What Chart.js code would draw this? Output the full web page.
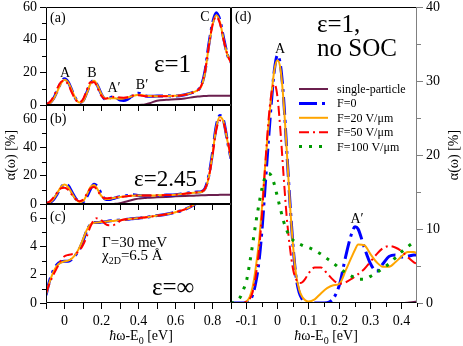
<!DOCTYPE html>
<html>
<head>
<meta charset="utf-8">
<script src="https://cdn.jsdelivr.net/npm/chart.js@4.4.1/dist/chart.umd.min.js"></script>
<style>
  html, body { margin: 0; padding: 0; background: #fff; }
  #wrap { position: relative; width: 463px; height: 346px; overflow: hidden; }
  #wrap canvas { position: absolute; left: -50px; top: -50px; }
</style>
</head>
<body>
<div id="wrap">
  <canvas id="pa" width="563" height="446"></canvas>
  <canvas id="pb" width="563" height="446"></canvas>
  <canvas id="pc" width="563" height="446"></canvas>
  <canvas id="pd" width="563" height="446"></canvas>
</div>
<script>
// photon energy hw-E0 [eV], left column (a)-(c)
const xLeft = [-0.1,-0.08,-0.06,-0.04,-0.02,0,0.02,0.04,0.06,0.08,
               0.1,0.12,0.14,0.16,0.18,0.2,0.22,0.24,0.26,0.28,
               0.3,0.32,0.34,0.36,0.38,0.4,0.42,0.44,0.46,
               0.5,0.55,0.6,0.65,0.7,
               0.72,0.74,0.76,0.78,0.8,0.82,0.84,0.86,0.88,0.9];

// (a) eps = 1
const spA  = [0,0,0,0,0,0,0,0,0,0, 0,0,0,0,0,0,0,0,0,0, 0,0,0,0,0,0,0.1,0.5,1.1,
              2.6,3.2,3.5,4,4.9, 5.2,5.4,5.5,5.6,5.6,5.6,5.7,5.7,5.7,5.7];
const f0A  = [0.3,1.2,3.8,8.5,13.5,16,14,9,4,1.5, 2.5,7.5,13,15,11.5,6.5,3.5,4,5,4.5,
              3,2.8,3.5,5,6.5,7.2,6.5,5.5,5.3, 5.5,5.6,5.5,6.3,8,
              9,12,21,37,50,56.5,52,41,31,26];
const f20A = [0.3,1,3.5,8,13,15.5,13.8,9,4,1.5, 2.3,7,12.8,14.8,11.5,6.5,4,4,4.2,4,
              3.8,4,4.5,5.2,5.8,6.2,6,5.7,5.5, 5.4,5.5,5.6,6.3,8,
              9,11.5,20,36,49,55,51,40,31,26];
const f50A = [0.5,1.8,5,10,14,15,12.5,7.5,3.2,1.5, 3.5,9,14,14,10,5.5,3.8,4.5,5,4.8,
              4.6,4.5,4.8,5.5,6,6,5.6,5.4,5.3, 5.3,5.4,5.5,6.2,7.8,
              9,12,21,36,49,54,50,40,31,26];

// (b) eps = 2.45
const spB  = [0,0,0,0,0,0,0,0,0,0, 0,0,0,0,0,0,0,0,0,0.2, 0.5,1.2,2,2.7,3.3,3.8,4.1,4.3,4.5,
              4.7,5,5.4,5.7,5.9, 6,6.1,6.2,6.3,6.4,6.4,6.5,6.5,6.6,6.6];
const f0B  = [0.3,1,3,7,11.5,14,13,8.5,4,1.5, 1.5,5,10.5,14,12,7,3.5,3.2,3.8,4.5,
              5.2,5.6,6,6.5,6.4,6,5.8,5.8,5.9, 6,6.3,6.5,7.5,8.3,
              8.5,8.8,11,20,36,55,62.5,59,45,32];
const f20B = [0.3,1.2,3.5,7.5,12,13.8,12,7.5,3.5,1.5, 2,6.5,12,13.5,10,5.5,3.5,3.5,4,4.5,
              5,5.3,5.6,5.8,6,6,6,6,6, 6.1,6.3,6.6,7.3,8,
              8.2,8.5,10.5,19,35,54,61.5,58,45,32];
const f50B = [0.5,1.8,4.5,8,11,11.5,10,6.5,3.5,2, 3,7,11,12,9,5.5,4,4.2,4.5,4.8,
              5,5.2,5.5,5.8,6,6,6,6,6, 6.1,6.3,6.6,7.3,8,
              8.3,8.8,11,19,34,52,59,57,46,33];

// (c) eps = infinity
const f0C  = [0.55,1.6,2.3,2.72,2.9,2.95,2.95,3.1,3.4,3.8, 4.4,5.1,5.55,5.7,5.7,5.72,5.75,5.8,5.82,5.85,
              5.87,5.9,5.92,5.95,5.98,6,6.03,6.06,6.1, 6.18,6.28,6.42,6.62,6.95,
              7.15,7.5,8.2,9.5,12,16,20,24,27,29];
const f20C = [0.6,1.5,2.2,2.65,2.85,2.95,3,3.15,3.45,3.9, 4.5,5.15,5.55,5.68,5.7,5.72,5.75,5.78,5.8,5.83,
              5.86,5.89,5.92,5.95,5.98,6,6.03,6.06,6.1, 6.18,6.28,6.42,6.62,6.95,
              7.15,7.5,8.2,9.5,12,16,20,24,27,29];
const f50C = [0.7,1.4,2,2.5,3,3.3,3.4,3.45,3.5,3.7, 4.1,4.7,5.4,5.9,6,5.85,5.6,5.5,5.5,5.6,
              5.8,5.9,5.92,5.95,5.98,6,6.03,6.06,6.1, 6.18,6.28,6.42,6.62,6.95,
              7.15,7.5,8.2,9.5,12,16,20,24,27,29];

// (d) eps = 1, no SOC, field dependence
const xD = [-0.15,-0.14,-0.13,-0.12,-0.11,-0.1,-0.09,-0.08,-0.07,-0.06,
            -0.05,-0.04,-0.03,-0.02,-0.01,0,0.01,0.02,0.03,0.04,
            0.05,0.06,0.07,0.08,0.09,0.1,
            0.12,0.14,0.16,0.18,0.2,0.22,0.24,0.25,0.26,
            0.28,0.3,0.32,0.34,0.36,0.38,0.4,0.42,0.44,0.45];
const spD   = [0,0,0,0,0,0,0,0,0,0, 0,0,0,0,0,0,0,0,0,0, 0,0,0,0,0,0,
               0,0,0,0,0,0,0,0,0, 0,0,0,0,0,0,0,0.05,0.15,0.2];
const f0D   = [0,0,0,0,0,0.1,0.3,1.1,2.8,5.5, 9.9,15.7,21.5,27,31.5,33.5,32,27.5,20.5,13.7,
               7.8,3.5,1.4,0.5,0.1,0, 0,0,0.05,0.6,2.5,6.3,9.5,10.3,10,
               7.5,5.3,4.3,5.3,6.3,6.5,6.2,6.3,6.5,6.5];
const f20D  = [0,0,0,0,0,0.2,0.8,2.2,4.8,8.2, 13,18.5,23.5,28,31.5,32.8,31.5,27,20.5,13.5,
               7.8,3.8,1.8,0.8,0.35,0.2, 0.5,1.3,2,2.4,2.6,4.4,6.3,7.2,7.9,
               7.8,6.6,5.5,4.9,4.9,5.5,6.3,6.9,6.9,6.7];
const f50D  = [0,0,0,0,0,0.2,0.5,1.5,3.7,7, 12,18.4,24.2,28.2,29.6,27.8,23,17,11.5,7.5,
               4.6,3.2,2.7,2.8,3.3,4, 4.8,4.8,4,3.1,2.6,2.8,3.3,3.6,3.9,
               4.6,5.6,6.6,7.4,7.7,7.5,7,6.2,5.5,5.3];
const f100D = [0,0.1,0.3,0.8,1.8,3,5.3,8,10.8,13.3, 15.5,17,17.5,17.2,16,14.3,12.6,11,9.8,9,
               8.5,8.2,8,7.8,7.6,7.5, 7.1,6.6,6,5.4,4.7,4.1,3.6,3.4,3.2,
               3.2,3.6,4.1,4.7,5.3,6.1,6.9,7.6,8.2,8.4];

const seriesNames = ['single-particle', 'F=0', 'F=20 V/\u03bcm', 'F=50 V/\u03bcm', 'F=100 V/\u03bcm'];

const SERIF = '"Liberation Serif", "DejaVu Serif", serif';
const OFF = 50, CW = 563, CH = 446, YW = 40, XH = 40;

const styles = [
  { borderColor: '#6b1f4e', borderWidth: 2, borderDash: [], order: 4 },
  { borderColor: '#0000ff', borderWidth: 3, borderDash: [18, 5, 3, 5], order: 3 },
  { borderColor: '#ffa500', borderWidth: 2, borderDash: [], order: 2 },
  { borderColor: '#ff0000', borderWidth: 2, borderDash: [10, 4, 2, 4], order: 1 },
  { borderColor: '#009900', borderWidth: 3, borderDash: [3, 7], order: 0 }
];

function isMult(v, step) {
  const r = v / step;
  return Math.abs(r - Math.round(r)) < 1e-6;
}

function ds(i, xs, ys) {
  return Object.assign({
    label: seriesNames[i],
    data: xs.map((x, k) => ({ x: x, y: ys[k] })),
    pointRadius: 0,
    fill: false,
    cubicInterpolationMode: 'monotone'
  }, styles[i]);
}

function drawRich(ctx, segs, x, y, size, align) {
  const fontFor = k => (k === 'i' ? 'italic ' : '') + (k === 's' ? Math.round(size * 0.68) : size) + 'px ' + SERIF;
  let w = 0;
  segs.forEach(([t, k]) => { ctx.font = fontFor(k); w += ctx.measureText(t).width; });
  let cx = align === 'center' ? x - w / 2 : (align === 'right' ? x - w : x);
  ctx.textAlign = 'left';
  ctx.textBaseline = 'alphabetic';
  segs.forEach(([t, k]) => {
    ctx.font = fontFor(k);
    ctx.fillText(t, cx, k === 's' ? y + size * 0.28 : y);
    cx += ctx.measureText(t).width;
  });
}

// frame, minor ticks, labels and legend
const deco = {
  id: 'deco',
  afterDatasetsDraw(chart, args, o) {
    const ctx = chart.ctx, a = chart.chartArea;
    ctx.save();
    ['x', 'y'].forEach(id => {
      const s = chart.scales[id], ax = o.axes[id];
      ctx.strokeStyle = ax.color || '#000';
      ctx.lineWidth = 1;
      s.ticks.forEach(t => {
        if (isMult(t.value, ax.major)) return;
        const p = Math.round(s.getPixelForValue(t.value)) + 0.5;
        ctx.beginPath();
        if (id === 'x') { ctx.moveTo(p, a.bottom); ctx.lineTo(p, a.bottom + 4); }
        else if (s.position === 'left') { ctx.moveTo(a.left - 4, p); ctx.lineTo(a.left, p); }
        else { ctx.moveTo(a.right, p); ctx.lineTo(a.right + 4, p); }
        ctx.stroke();
      });
    });
    const L = Math.round(a.left) + 0.5, R = Math.round(a.right) - 0.5;
    const T = Math.round(a.top) + 0.5, B = Math.round(a.bottom) - 0.5;
    const seg = (x1, y1, x2, y2, c) => {
      ctx.strokeStyle = c; ctx.beginPath(); ctx.moveTo(x1, y1); ctx.lineTo(x2, y2); ctx.stroke();
    };
    seg(L, T, R, T, '#000');
    seg(L, B, R, B, '#000');
    seg(L, T, L, B, '#000');
    seg(R, T, R, B, o.rightColor || '#000');

    ctx.translate(OFF, OFF);
    ctx.fillStyle = '#000';
    (o.texts || []).forEach(t => {
      const segs = typeof t.t === 'string' ? [[t.t, 'n']] : t.t;
      if (t.rot) {
        ctx.save();
        ctx.translate(t.x, t.y);
        ctx.rotate(-Math.PI / 2);
        drawRich(ctx, segs, 0, t.size * 0.33, t.size, 'center');
        ctx.restore();
      } else {
        drawRich(ctx, segs, t.x, t.y, t.size, t.align || 'left');
      }
    });
    if (o.legend) {
      const lg = o.legend;
      chart.data.datasets.forEach((d, i) => {
        const y = lg.y + i * lg.dy;
        ctx.strokeStyle = d.borderColor;
        ctx.lineWidth = d.borderWidth;
        ctx.setLineDash(d.borderDash || []);
        ctx.beginPath(); ctx.moveTo(lg.x, y); ctx.lineTo(lg.x + lg.w, y); ctx.stroke();
        ctx.setLineDash([]);
        drawRich(ctx, [[d.label, 'n']], lg.tx, y + 4, lg.size, 'left');
      });
    }
    ctx.restore();
  }
};

function axis(kind, pos, ax) {
  return {
    type: 'linear', position: pos, min: ax.min, max: ax.max,
    afterFit: s => { if (kind === 'x') s.height = XH; else s.width = YW; },
    border: { display: false },
    grid: {
      drawOnChartArea: false, drawTicks: true, tickLength: 6, tickWidth: 1,
      tickColor: c => (c.tick && isMult(c.tick.value, ax.major)) ? (ax.color || '#000') : 'rgba(0,0,0,0)'
    },
    ticks: {
      display: ax.labels !== false, stepSize: ax.minor, autoSkip: false, maxRotation: 0,
      padding: ax.pad || 3, color: '#000', font: { family: SERIF, size: 14 },
      callback: v => isMult(v, ax.label) ? ax.fmt(v) : ''
    }
  };
}

function panel(id, area, yPos, xAx, yAx, datasets, extra) {
  const pad = { top: area.t + OFF, bottom: CH - area.b - OFF - XH };
  if (yPos === 'left') { pad.left = area.l + OFF - YW; pad.right = CW - area.r - OFF; }
  else { pad.left = area.l + OFF; pad.right = CW - area.r - OFF - YW; }
  return new Chart(document.getElementById(id), {
    type: 'line',
    data: { datasets: datasets },
    options: {
      responsive: false, animation: false, devicePixelRatio: 1,
      layout: { padding: pad, autoPadding: false },
      plugins: {
        legend: { display: false }, tooltip: { enabled: false },
        deco: Object.assign({ axes: { x: xAx, y: yAx } }, extra)
      },
      scales: { x: axis('x', 'bottom', xAx), y: axis('y', yPos, yAx) }
    },
    plugins: [deco]
  });
}

const fmtE = v => Math.abs(v) < 1e-9 ? '0' : (Math.round(v * 10) / 10).toFixed(1);
const fmtI = v => String(Math.round(v));
const xL = labels => ({ min: -0.1, max: 0.9, minor: 0.1, major: 0.1, label: 0.2, labels: labels, pad: 4, fmt: fmtE });

panel('pa', { l: 46, r: 231, t: 7, b: 105 }, 'left', xL(false),
  { min: 0, max: 60, minor: 10, major: 20, label: 20, fmt: fmtI },
  [ds(0, xLeft, spA), ds(1, xLeft, f0A), ds(2, xLeft, f20A), ds(3, xLeft, f50A)],
  { texts: [
    { t: '(a)', x: 50, y: 22, size: 14 },
    { t: 'A', x: 65, y: 77, size: 14, align: 'center' },
    { t: 'B', x: 92, y: 77, size: 14, align: 'center' },
    { t: 'A\u2032', x: 114, y: 92, size: 14, align: 'center' },
    { t: 'B\u2032', x: 142, y: 89, size: 14, align: 'center' },
    { t: 'C', x: 205, y: 21, size: 14, align: 'center' },
    { t: '\u03b5=1', x: 154, y: 72, size: 25 }
  ] });

panel('pb', { l: 46, r: 231, t: 105, b: 204 }, 'left', xL(false),
  { min: 0, max: 70, minor: 10, major: 20, label: 20, fmt: fmtI },
  [ds(0, xLeft, spB), ds(1, xLeft, f0B), ds(2, xLeft, f20B), ds(3, xLeft, f50B)],
  { texts: [
    { t: '(b)', x: 50, y: 123, size: 14 },
    { t: '\u03b5=2.45', x: 134, y: 186, size: 23 },
    { t: '\u03b1(\u03c9) [%]', x: 10, y: 155, size: 14, rot: true }
  ] });

panel('pc', { l: 46, r: 231, t: 204, b: 303 }, 'left', xL(true),
  { min: 0, max: 7, minor: 1, major: 2, label: 2, fmt: fmtI },
  [ds(1, xLeft, f0C), ds(2, xLeft, f20C), ds(3, xLeft, f50C)],
  { texts: [
    { t: '(c)', x: 50, y: 221, size: 14 },
    { t: '\u0393=30 meV', x: 102, y: 247, size: 15 },
    { t: [['\u03c7', 'n'], ['2D', 's'], ['=6.5 \u00c5', 'n']], x: 102, y: 260, size: 15 },
    { t: '\u03b5=\u221e', x: 152, y: 295, size: 25 },
    { t: [['\u0127', 'i'], ['\u03c9-E', 'n'], ['0', 's'], [' [eV]', 'n']], x: 141, y: 340, size: 14, align: 'center' }
  ] });

panel('pd', { l: 231, r: 417, t: 7, b: 303 }, 'right',
  { min: -0.15, max: 0.45, minor: 0.05, major: 0.1, label: 0.1, pad: 4, fmt: fmtE },
  { min: 0, max: 40, minor: 5, major: 10, label: 10, color: '#808080', fmt: fmtI },
  [ds(0, xD, spD), ds(1, xD, f0D), ds(2, xD, f20D), ds(3, xD, f50D), ds(4, xD, f100D)],
  { rightColor: '#808080',
    legend: { x: 299, w: 29, tx: 337, y: 89, dy: 14.4, size: 12 },
    texts: [
    { t: '(d)', x: 235, y: 21, size: 14 },
    { t: '\u03b5=1,', x: 317, y: 32, size: 25 },
    { t: 'no SOC', x: 317, y: 56, size: 25 },
    { t: 'A', x: 280, y: 53, size: 14, align: 'center' },
    { t: 'A\u2032', x: 357, y: 223, size: 14, align: 'center' },
    { t: '\u03b1(\u03c9) [%]', x: 453, y: 155, size: 14, rot: true },
    { t: [['\u0127', 'i'], ['\u03c9-E', 'n'], ['0', 's'], [' [eV]', 'n']], x: 326, y: 340, size: 14, align: 'center' }
  ] });
</script>
</body>
</html>
